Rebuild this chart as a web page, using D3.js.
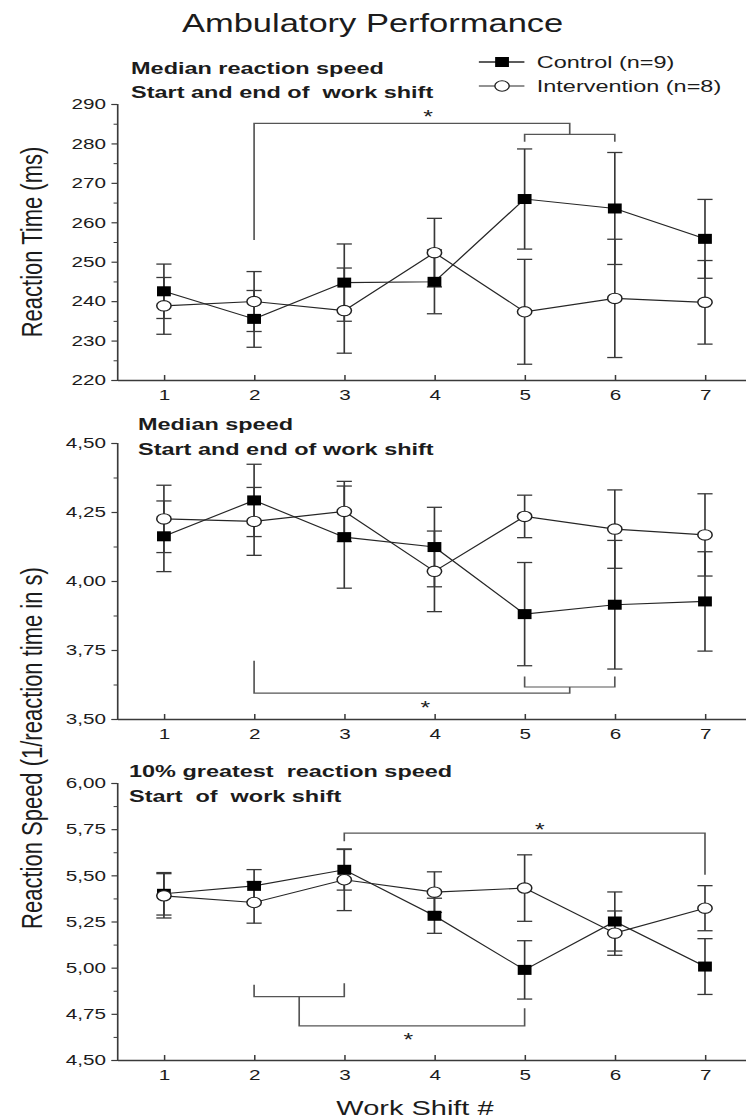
<!DOCTYPE html>
<html><head><meta charset="utf-8">
<script src="https://cdn.jsdelivr.net/npm/d3@7"></script>
<style>
body{margin:0;background:#fff}
text{font-family:"Liberation Sans",Arial,Helvetica,sans-serif;fill:#1c1c1c;white-space:pre}
</style>
</head><body>
<svg id="chart" width="746" height="1119"></svg>
<script>
// ---------- data ----------
const shifts = [1, 2, 3, 4, 5, 6, 7];
const xTickLabels = ["1", "2", "3", "4", "5", "6", "7"];
const seriesNames = ["Control (n=9)", "Intervention (n=8)"];

// Panel 1: Reaction time (ms)
const rtControl    = [242.5, 235.5, 244.7, 244.9, 265.9, 263.5, 255.8];
const rtControlErr = [6.9, 7.2, 9.8, 8.1, 12.7, 14.2, 10.0];
const rtInterv     = [238.8, 239.9, 237.6, 252.3, 237.3, 240.7, 239.7];
const rtIntervErr  = [7.2, 7.6, 10.8, 8.7, 13.3, 15.0, 10.6];
const rtTicks      = [220, 230, 240, 250, 260, 270, 280, 290];
const rtTickLabels = ["220", "230", "240", "250", "260", "270", "280", "290"];
const rtMinor      = [225, 235, 245, 255, 265, 275, 285];
const rtBrackets   = [
  [[2, 255.5], [2, 285.1], [5.5, 285.1], [5.5, 282.3]],
  [[5, 280.4], [5, 282.3], [6, 282.3], [6, 280.4]]
];
const rtStars      = [[3.93, 287.6]];

// Panel 2: Median speed
const msControl    = [4.162, 4.292, 4.159, 4.123, 3.880, 3.914, 3.926];
const msControlErr = [0.128, 0.131, 0.185, 0.144, 0.187, 0.233, 0.180];
const msInterv     = [4.225, 4.216, 4.252, 4.035, 4.234, 4.188, 4.167];
const msIntervErr  = [0.122, 0.123, 0.109, 0.146, 0.077, 0.142, 0.149];
const msTicks      = [3.5, 3.75, 4.0, 4.25, 4.5];
const msTickLabels = ["3,50", "3,75", "4,00", "4,25", "4,50"];
const msMinor      = [3.625, 3.875, 4.125, 4.375];
const msBrackets   = [
  [[2, 3.711], [2, 3.594], [5.5, 3.594], [5.5, 3.616]],
  [[5, 3.654], [5, 3.616], [6, 3.616], [6, 3.654]]
];
const msStars      = [[3.9, 3.554]];

// Panel 3: 10% greatest reaction speed
const gsControl    = [5.400, 5.443, 5.530, 5.281, 4.988, 5.250, 5.006];
const gsControlErr = [0.115, 0.088, 0.110, 0.095, 0.158, 0.160, 0.151];
const gsInterv     = [5.389, 5.353, 5.476, 5.409, 5.431, 5.187, 5.322];
const gsIntervErr  = [0.120, 0.112, 0.167, 0.110, 0.180, 0.120, 0.122];
const gsTicks      = [4.5, 4.75, 5.0, 5.25, 5.5, 5.75, 6.0];
const gsTickLabels = ["4,50", "4,75", "5,00", "5,25", "5,50", "5,75", "6,00"];
const gsMinor      = [4.625, 4.875, 5.125, 5.375, 5.625, 5.875];
const gsBrackets   = [
  [[3, 5.684], [3, 5.729], [7, 5.729], [7, 5.503]],
  [[2, 4.907], [2, 4.843], [3, 4.843], [3, 4.916]],
  [[2.5, 4.843], [2.5, 4.685], [5, 4.685], [5, 4.780]]
];
const gsStars      = [[5.17, 5.765], [3.71, 4.632]];

// ---------- layout ----------
const SX = 1.38; // the source figure is horizontally stretched
const svg = d3.select("#chart");
const root = svg.append("g").attr("transform", `scale(${SX},1)`);
const x = d3.scaleLinear().domain([0.48, 7.55]).range([84.8, 546.8]);

const panels = [
  { sub: ["Median reaction speed", "Start and end of  work shift"], subX: 95, subY: [74, 98],
    y: d3.scaleLinear().domain([220, 290]).range([380, 104]),
    ticks: rtTicks, labels: rtTickLabels, minor: rtMinor,
    c: rtControl, ce: rtControlErr, i: rtInterv, ie: rtIntervErr,
    brackets: rtBrackets, stars: rtStars },
  { sub: ["Median speed", "Start and end of work shift"], subX: 100, subY: [430, 455],
    y: d3.scaleLinear().domain([3.5, 4.5]).range([719, 443]),
    ticks: msTicks, labels: msTickLabels, minor: msMinor,
    c: msControl, ce: msControlErr, i: msInterv, ie: msIntervErr,
    brackets: msBrackets, stars: msStars },
  { sub: ["10% greatest  reaction speed", "Start  of  work shift"], subX: 93.5, subY: [777, 802],
    y: d3.scaleLinear().domain([4.5, 6.0]).range([1060, 783]),
    ticks: gsTicks, labels: gsTickLabels, minor: gsMinor,
    c: gsControl, ce: gsControlErr, i: gsInterv, ie: gsIntervErr,
    brackets: gsBrackets, stars: gsStars }
];

const AX = "#3a3a3a";
const LINE = "#262626";
const EBAR = "#383838";

panels.forEach(p => {
  const g = root.append("g");
  const y = p.y;
  const x0 = x.range()[0];
  const yBottom = y.range()[0];

  // minor y ticks
  g.append("g").attr("transform", `translate(${x0},0)`)
    .call(d3.axisLeft(y).tickValues(p.minor).tickSize(2.5).tickFormat(""))
    .call(a => a.select(".domain").remove())
    .call(a => a.selectAll("line").attr("stroke", AX).attr("stroke-width", 1));

  // major y axis
  g.append("g").attr("transform", `translate(${x0},0)`)
    .call(d3.axisLeft(y).tickValues(p.ticks).tickSize(4).tickPadding(4)
      .tickFormat((d, k) => p.labels[k]))
    .call(a => a.select(".domain").attr("stroke", AX).attr("stroke-width", 1.2))
    .call(a => a.selectAll("line").attr("stroke", AX).attr("stroke-width", 1.2))
    .call(a => a.selectAll("text").attr("font-size", 15).attr("fill", "#2a2a2a")
      .attr("font-family", '"Liberation Sans",Arial,sans-serif'));

  // x axis (ticks inward)
  g.append("g").attr("transform", `translate(0,${yBottom})`)
    .call(d3.axisBottom(x).tickValues(shifts).tickSizeInner(-5).tickSizeOuter(0).tickPadding(9)
      .tickFormat((d, k) => xTickLabels[k]))
    .call(a => a.select(".domain").attr("stroke", AX).attr("stroke-width", 1.4))
    .call(a => a.selectAll("line").attr("stroke", AX).attr("stroke-width", 1.1))
    .call(a => a.selectAll("text").attr("font-size", 15).attr("fill", "#2a2a2a")
      .attr("font-family", '"Liberation Sans",Arial,sans-serif'));

  // subtitle
  p.sub.forEach((s, k) => {
    g.append("text").attr("x", p.subX).attr("y", p.subY[k]).attr("xml:space", "preserve")
      .attr("font-size", 17).attr("font-weight", "bold").text(s);
  });

  // significance brackets
  const bl = d3.line().x(d => x(d[0])).y(d => y(d[1]));
  g.selectAll(".br").data(p.brackets).enter().append("path")
    .attr("d", bl).attr("fill", "none").attr("stroke", "#555").attr("stroke-width", 1.2);
  g.selectAll(".st").data(p.stars).enter().append("text")
    .attr("x", d => x(d[0])).attr("y", d => y(d[1]) + 10)
    .attr("text-anchor", "middle").attr("font-size", 18).text("*");

  // series
  const line = d3.line().x((d, k) => x(shifts[k])).y(d => y(d));
  [[p.c, p.ce], [p.i, p.ie]].forEach(([vals, errs]) => {
    g.append("path").attr("d", line(vals)).attr("fill", "none")
      .attr("stroke", LINE).attr("stroke-width", 1.1);
    vals.forEach((v, k) => {
      const cx = x(shifts[k]);
      const top = y(v + errs[k]), bot = y(v - errs[k]);
      g.append("line").attr("x1", cx).attr("x2", cx).attr("y1", top).attr("y2", bot)
        .attr("stroke", EBAR).attr("stroke-width", 1.2);
      [top, bot].forEach(yy => g.append("line").attr("x1", cx - 5.5).attr("x2", cx + 5.5)
        .attr("y1", yy).attr("y2", yy).attr("stroke", EBAR).attr("stroke-width", 1.3));
    });
  });
  // markers on top
  p.c.forEach((v, k) => {
    g.append("rect").attr("x", x(shifts[k]) - 5).attr("y", y(v) - 5)
      .attr("width", 10).attr("height", 10).attr("fill", "#000");
  });
  p.i.forEach((v, k) => {
    g.append("circle").attr("cx", x(shifts[k])).attr("cy", y(v)).attr("r", 5.2)
      .attr("fill", "#fff").attr("stroke", "#222").attr("stroke-width", 1.1);
  });
});

// ---------- titles ----------
root.append("text").attr("x", 270).attr("y", 32).attr("text-anchor", "middle")
  .attr("font-size", 25).text("Ambulatory Performance");

root.append("text").attr("transform", "translate(22.5,242) rotate(-90)").attr("dy", "0.35em")
  .attr("text-anchor", "middle").attr("font-size", 22).text("Reaction Time (ms)");
root.append("text").attr("transform", "translate(22.5,748) rotate(-90)").attr("dy", "0.35em")
  .attr("text-anchor", "middle").attr("font-size", 22).text("Reaction Speed (1/reaction time in s)");

root.append("text").attr("x", 300.7).attr("y", 1115).attr("text-anchor", "middle")
  .attr("font-size", 21).text("Work Shift #");

// ---------- legend ----------
const legY = [62, 86];
seriesNames.forEach((name, k) => {
  const lg = root.append("g");
  lg.append("line").attr("x1", 347).attr("x2", 380).attr("y1", legY[k]).attr("y2", legY[k])
    .attr("stroke", LINE).attr("stroke-width", k === 0 ? 1.6 : 1.2);
  if (k === 0) {
    lg.append("rect").attr("x", 363.8 - 5).attr("y", legY[k] - 5).attr("width", 10).attr("height", 10).attr("fill", "#000");
  } else {
    lg.append("circle").attr("cx", 363.8).attr("cy", legY[k]).attr("r", 5.2)
      .attr("fill", "#fff").attr("stroke", "#222");
  }
  lg.append("text").attr("x", 389).attr("y", legY[k] + 6.5).attr("font-size", 17).text(name);
});
</script>
</body></html>
